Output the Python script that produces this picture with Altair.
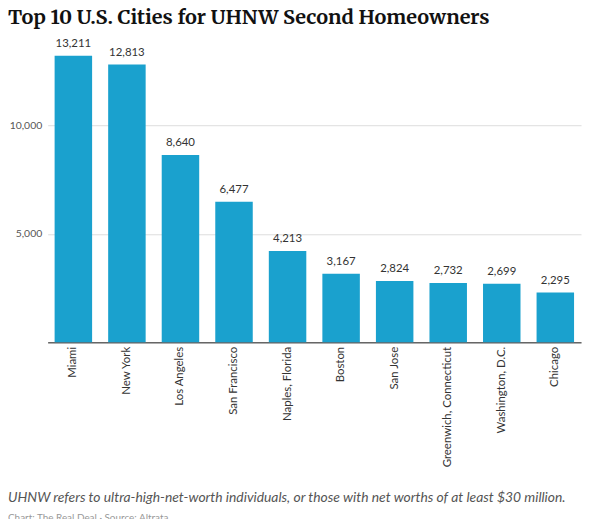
import altair as alt
import pandas as pd

cities = ["Miami", "New York", "Los Angeles", "San Francisco", "Naples, Florida",
          "Boston", "San Jose", "Greenwich, Connecticut", "Washington, D.C.", "Chicago"]
values = [13211, 12813, 8640, 6477, 4213, 3167, 2824, 2732, 2699, 2295]
y_ticks = [0, 5000, 10000]

title_text = "Top 10 U.S. Cities for UHNW Second Homeowners"
caption_text = "UHNW refers to ultra-high-net-worth individuals, or those with net worths of at least $30 million."
source_text = "Chart: The Real Deal \u00b7 Source: Altrata"

df = pd.DataFrame({"city": cities, "value": values})

sans = "Lato"

x = alt.X("city:N", sort=cities, title=None,
          scale=alt.Scale(paddingInner=0.3, paddingOuter=0.13),
          axis=alt.Axis(labelAngle=270, labelAlign="right", labelBaseline="middle",
                        labelFont=sans, labelFontSize=11.5, labelColor="#333333",
                        labelPadding=4, ticks=False, domainColor="#666666",
                        domainWidth=1.5, labelLimit=200))
y = alt.Y("value:Q", title=None,
          scale=alt.Scale(domain=[0, 13211], nice=False),
          axis=alt.Axis(values=y_ticks, labelFont=sans, labelFontSize=10.5,
                        labelColor="#555555", labelPadding=6, ticks=False, domain=False,
                        gridColor="#dddddd",
                        labelExpr="datum.value == 0 ? '' : format(datum.value, ',')"))

base = alt.Chart(df)
bars = base.mark_bar(color="#1aa1ce").encode(x=x, y=y)
labels = base.mark_text(dy=-7, baseline="bottom", font=sans, fontSize=11.5,
                        color="#333333").encode(
    x=alt.X("city:N", sort=cities), y="value:Q",
    text=alt.Text("value:Q", format=","))

caption = alt.Chart(pd.DataFrame({"t": [caption_text]})).mark_text(
    align="left", baseline="alphabetic", font=sans, fontSize=14, fontStyle="italic",
    color="#555555").encode(x=alt.value(-40), y=alt.value(450), text="t:N")
source = alt.Chart(pd.DataFrame({"t": [source_text]})).mark_text(
    align="left", baseline="alphabetic", font=sans, fontSize=10, color="#999999"
).encode(x=alt.value(-40), y=alt.value(469), text="t:N")

chart = alt.layer(bars, labels, caption, source).properties(
    width=538, height=289,
    padding={"left": 40, "top": 46, "right": 2, "bottom": 180},
    autosize=alt.AutoSizeParams(type="none"),
    title=alt.TitleParams(title_text, anchor="start", frame="group",
                          font="Merriweather, DejaVu Serif", fontSize=20, fontWeight="bold",
                          color="#111111", offset=0, dx=-40, dy=6, baseline="alphabetic"),
).configure_view(stroke=None)

chart.save("out.html", embed_options={"renderer": "svg", "actions": False})
